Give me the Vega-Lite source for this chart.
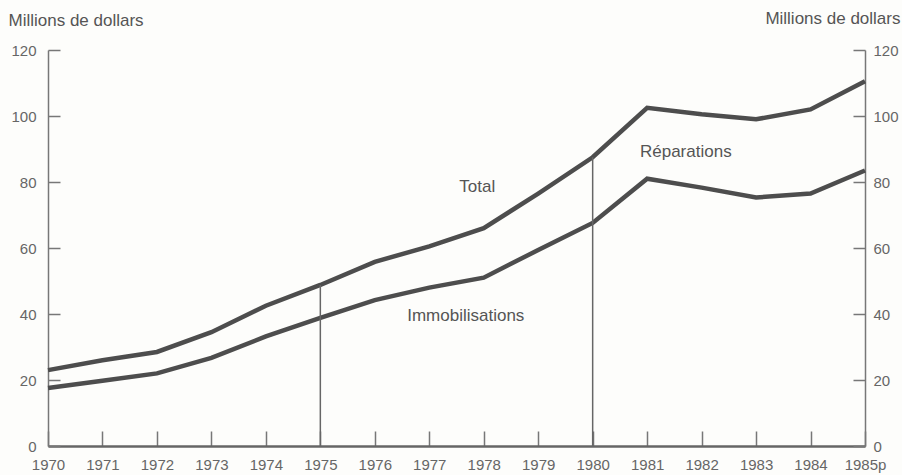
{
  "$schema": "https://vega.github.io/schema/vega-lite/v6.json",
  "width": 817,
  "height": 396,
  "autosize": "none",
  "padding": {"left": 48, "top": 50, "right": 37, "bottom": 29},
  "background": "#fdfdfb",
  "config": {
    "view": {"stroke": null},
    "font": "Liberation Sans",
    "axis": {
      "grid": false,
      "labelColor": "#666",
      "labelFontSize": 15,
      "domainColor": "#777",
      "domainWidth": 1.5,
      "tickColor": "#777",
      "tickWidth": 1.5,
      "titleColor": "#555",
      "titleFontWeight": "normal",
      "titleFontSize": 17
    }
  },
  "datasets": {
    "series": [
      {"year": 1970, "series": "Total", "value": 23},
      {"year": 1971, "series": "Total", "value": 26},
      {"year": 1972, "series": "Total", "value": 28.5},
      {"year": 1973, "series": "Total", "value": 34.5},
      {"year": 1974, "series": "Total", "value": 42.5},
      {"year": 1975, "series": "Total", "value": 48.8},
      {"year": 1976, "series": "Total", "value": 55.8},
      {"year": 1977, "series": "Total", "value": 60.5},
      {"year": 1978, "series": "Total", "value": 66},
      {"year": 1979, "series": "Total", "value": 76.5},
      {"year": 1980, "series": "Total", "value": 87.5},
      {"year": 1981, "series": "Total", "value": 102.5},
      {"year": 1982, "series": "Total", "value": 100.5},
      {"year": 1983, "series": "Total", "value": 99},
      {"year": 1984, "series": "Total", "value": 102},
      {"year": 1985, "series": "Total", "value": 110.5},
      {"year": 1970, "series": "Immobilisations", "value": 17.6},
      {"year": 1971, "series": "Immobilisations", "value": 19.8},
      {"year": 1972, "series": "Immobilisations", "value": 22},
      {"year": 1973, "series": "Immobilisations", "value": 26.7},
      {"year": 1974, "series": "Immobilisations", "value": 33.2},
      {"year": 1975, "series": "Immobilisations", "value": 38.8},
      {"year": 1976, "series": "Immobilisations", "value": 44.2},
      {"year": 1977, "series": "Immobilisations", "value": 48},
      {"year": 1978, "series": "Immobilisations", "value": 51},
      {"year": 1979, "series": "Immobilisations", "value": 59.4},
      {"year": 1980, "series": "Immobilisations", "value": 67.6},
      {"year": 1981, "series": "Immobilisations", "value": 81},
      {"year": 1982, "series": "Immobilisations", "value": 78.3},
      {"year": 1983, "series": "Immobilisations", "value": 75.3},
      {"year": 1984, "series": "Immobilisations", "value": 76.5},
      {"year": 1985, "series": "Immobilisations", "value": 83.5}
    ],
    "rules": [
      {"year": 1975, "bottom": 0, "top": 48.8},
      {"year": 1980, "bottom": 0, "top": 87.5}
    ],
    "labels": [
      {"year": 1977.88, "value": 78.5, "label": "Total"},
      {"year": 1977.67, "value": 39.4, "label": "Immobilisations"},
      {"year": 1981.71, "value": 89.1, "label": "Réparations"}
    ]
  },
  "resolve": {"scale": {"y": "shared"}, "axis": {"y": "independent"}},
  "layer": [
    {
      "data": {"name": "series"},
      "mark": {"type": "line", "strokeWidth": 4.5, "color": "#4d4d4d"},
      "encoding": {
        "x": {
          "field": "year", "type": "quantitative",
          "scale": {"domain": [1970, 1985], "nice": false, "zero": false},
          "axis": {
            "title": null,
            "values": [1970, 1971, 1972, 1973, 1974, 1975, 1976, 1977, 1978, 1979, 1980, 1981, 1982, 1983, 1984, 1985],
            "labelExpr": "datum.value == 1985 ? '1985p' : datum.value",
            "tickSize": -15,
            "labelPadding": 26,
            "domainWidth": 2.5,
            "domainColor": "#666",
            "labelFlush": false
          }
        },
        "y": {
          "field": "value", "type": "quantitative",
          "scale": {"domain": [0, 120], "nice": false},
          "axis": {
            "orient": "left",
            "values": [0, 20, 40, 60, 80, 100, 120],
            "tickSize": -12,
            "labelPadding": 24,
            "title": "Millions de dollars",
            "titleAngle": 0,
            "titleAlign": "left",
            "titleBaseline": "middle",
            "titleX": -40,
            "titleY": -30
          }
        },
        "detail": {"field": "series"}
      }
    },
    {
      "data": {"name": "rules"},
      "mark": {"type": "rule", "color": "#666", "strokeWidth": 1.5},
      "encoding": {
        "x": {"field": "year", "type": "quantitative"},
        "y": {"field": "bottom", "type": "quantitative", "axis": null},
        "y2": {"field": "top"}
      }
    },
    {
      "data": {"name": "labels"},
      "mark": {"type": "text", "fontSize": 17, "color": "#555", "align": "center", "baseline": "middle"},
      "encoding": {
        "x": {"field": "year", "type": "quantitative"},
        "y": {
          "field": "value", "type": "quantitative",
          "axis": {
            "orient": "right",
            "values": [0, 20, 40, 60, 80, 100, 120],
            "tickSize": -12,
            "labelPadding": 20,
            "title": "Millions de dollars",
            "titleAngle": 0,
            "titleAlign": "right",
            "titleBaseline": "middle",
            "titleX": 35,
            "titleY": -32
          }
        },
        "text": {"field": "label"}
      }
    }
  ]
}
